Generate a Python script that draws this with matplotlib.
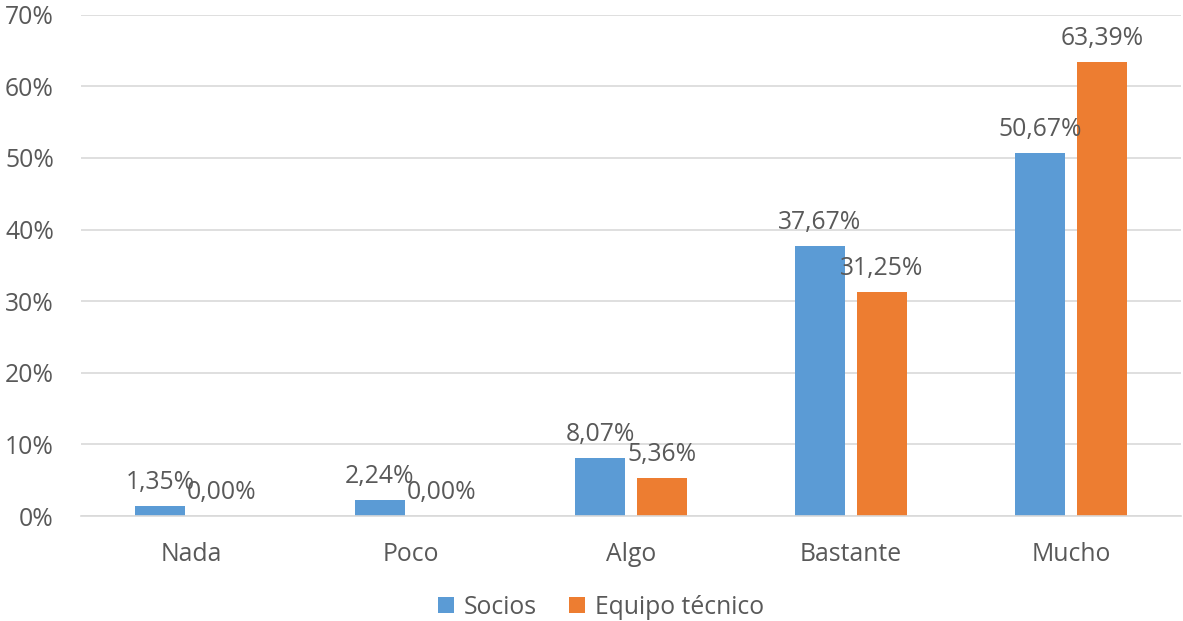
import matplotlib.pyplot as plt
import numpy as np
from matplotlib.ticker import FuncFormatter

categories = ["Nada", "Poco", "Algo", "Bastante", "Mucho"]
socios = [1.35, 2.24, 8.07, 37.67, 50.67]
equipo = [0.00, 0.00, 5.36, 31.25, 63.39]
series_names = ["Socios", "Equipo técnico"]

BLUE = "#5B9BD5"
ORANGE = "#ED7D31"
TEXT = "#595959"
GRID = "#D9D9D9"

plt.rcParams["font.family"] = ["Open Sans", "DejaVu Sans"]
FS = 17.8

fig = plt.figure(figsize=(11.83, 6.21), dpi=100)
ax = fig.add_axes([81 / 1183, 105 / 621, 1100 / 1183, (516 - 14.7) / 621])

x = np.arange(len(categories))
width = 0.223
offset = 0.141

bars1 = ax.bar(x - offset, socios, width, color=BLUE, label=series_names[0], zorder=2)
bars2 = ax.bar(x + offset, equipo, width, color=ORANGE, label=series_names[1], zorder=2)

def fmt(v):
    return f"{v:.2f}%".replace(".", ",")

for bars, vals in ((bars1, socios), (bars2, equipo)):
    for b, v in zip(bars, vals):
        ax.annotate(fmt(v), (b.get_x() + b.get_width() / 2, v),
                    xytext=(0, 8), textcoords="offset points",
                    ha="center", va="bottom", fontsize=FS, color=TEXT, zorder=3)

ax.set_xlim(-0.5, len(categories) - 0.5)
ax.set_ylim(0, 70)
ax.set_yticks(np.arange(0, 71, 10))
ax.yaxis.set_major_formatter(FuncFormatter(lambda v, p: f"{v:.0f}%"))
ax.set_xticks(x)
ax.set_xticklabels(categories)
ax.tick_params(axis="both", length=0, labelsize=FS, colors=TEXT)
ax.tick_params(axis="y", pad=19.5)
ax.tick_params(axis="x", pad=19)

ax.grid(axis="y", color=GRID, linewidth=1.2, zorder=0)
for s in ("top", "right", "left"):
    ax.spines[s].set_visible(False)
ax.spines["bottom"].set_color(GRID)
ax.spines["bottom"].set_linewidth(1.2)

fig.legend(loc="center", bbox_to_anchor=(601 / 1183, 1 - 607 / 621), ncol=2,
           frameon=False, fontsize=FS, labelcolor=TEXT,
           handlelength=0.65, handleheight=0.65, handletextpad=0.4, columnspacing=1.3)

fig.savefig("out.png", dpi=100)
